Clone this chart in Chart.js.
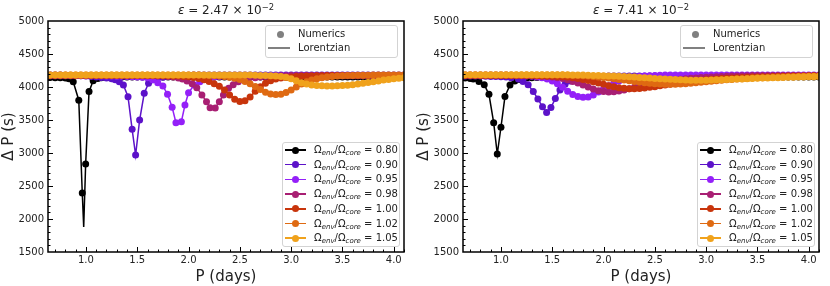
<!DOCTYPE html>
<html><head><meta charset="utf-8">
<script src="https://cdn.jsdelivr.net/npm/chart.js@4.4.0/dist/chart.umd.min.js"></script>
<style>
body{margin:0;background:#fff;font-family:"DejaVu Sans",sans-serif;color:#222}
#wrap{position:relative;width:830px;height:286px;overflow:hidden}
canvas{position:absolute;top:0}
.ttl{position:absolute;top:3px;width:356px;text-align:center;font-size:12px;line-height:14px}
.ttl sup{font-size:70%;position:relative;top:-0.5em;vertical-align:baseline;line-height:0}
.box{position:absolute;border:1px solid #d3d3d3;border-radius:3px;background:rgba(255,255,255,.85);box-sizing:border-box}
.lab{position:absolute;font-size:10px;line-height:12px;white-space:nowrap}
.lab sub{font-size:70%;font-style:italic;position:relative;top:0.3em;vertical-align:baseline;line-height:0}
.dot{position:absolute;width:7px;height:7px;border-radius:50%}
.seg{position:absolute;height:1.5px}
</style></head>
<body>
<div id="wrap">
<canvas id="c0" width="415" height="286" style="left:0"></canvas>
<canvas id="c1" width="415" height="286" style="left:415px"></canvas>
</div>
<script>
const ratioLabels=['0.80','0.90','0.95','0.98','1.00','1.02','1.05'];
const colors=['#000000','#5c12c9','#9420f8','#a81f73','#c8350c','#df6a12','#f0a21c'];
const xTicks=[1.0,1.5,2.0,2.5,3.0,3.5,4.0];
const yTicks=[1500,2000,2500,3000,3500,4000,4500,5000];

// periods (days) of the baseline modes
const gridP=[
0.60,0.65,0.70,0.75,0.80,0.85,0.90,0.95,1.00,1.05,
1.10,1.15,1.20,1.25,1.30,1.35,1.40,1.45,1.50,1.55,
1.60,1.65,1.70,1.75,1.80,1.85,1.90,1.95,2.00,2.05,
2.10,2.15,2.20,2.25,2.30,2.35,2.40,2.45,2.50,2.55,
2.60,2.65,2.70,2.75,2.80,2.85,2.90,2.95,3.00,3.05,
3.10,3.15,3.20,3.25,3.30,3.35,3.40,3.45,3.50,3.55,
3.60,3.65,3.70,3.75,3.80,3.85,3.90,3.95,4.00,4.05,
4.10];

// ---- left panel, eps = 2.47e-2 ----
const left080=[
4145,4145,4140,4140,4135,null,null,null,null,null,
null,4140,4145,4148,4150,4150,4150,4150,4150,4150,
4150,4150,4150,4150,4150,4150,4150,4150,4150,4150,
4150,4150,4150,4150,4150,4150,4150,4150,4150,4150,
4150,4150,4150,4150,4150,4150,4150,4150,4150,4150,
4150,4150,4150,4150,4150,4150,4150,4150,4150,4150,
4150,4150,4150,4150,4150,4150,4150,4150,4150,4150,
4150];
const left080DipP=[0.835,0.876,0.93,0.964,0.997,1.03,1.07,1.115];
const left080DipV=[4125,4080,3800,2394,2833,3930,4095,4130];
const left080Min=[0.978,1880];

const left090=[
4180,4180,4180,4180,4178,4176,4173,4170,4166,4160,
4152,4145,4135,4125,null,null,null,null,null,null,
null,null,null,4148,4158,4166,4172,4176,4178,4180,
4180,4180,4180,4180,4180,4180,4180,4180,4180,4180,
4180,4180,4180,4180,4180,4180,4180,4180,4180,4180,
4180,4180,4180,4180,4180,4180,4180,4180,4180,4180,
4180,4180,4180,4180,4180,4180,4180,4180,4180,4180,
4180];
const left090DipP=[1.285,1.325,1.365,1.41,1.45,1.484,1.523,1.568,1.61,1.655,1.70];
const left090DipV=[4110,4080,4030,3853,3359,2970,3500,3905,4056,4110,4135];

const left095=[
4170,4170,4170,4170,4170,4170,4170,4170,4170,4170,
4170,4170,4168,4166,4164,4162,4160,4156,4152,4148,
4140,null,null,null,null,null,null,null,null,null,
null,null,null,4150,4158,4162,4165,4168,4170,4170,
4170,4170,4170,4170,4170,4170,4170,4170,4170,4170,
4170,4170,4170,4170,4170,4170,4170,4170,4170,4170,
4170,4170,4170,4170,4170,4170,4170,4170,4170,4170,
4170];
const left095DipP=[1.65,1.70,1.75,1.795,1.84,1.877,1.93,1.965,2.0,2.055,2.11,2.16,2.21];
const left095DipV=[4110,4065,4015,3889,3692,3460,3475,3727,3914,4030,4080,4115,4140];

const left098=[
4175,4175,4175,4175,4175,4175,4175,4175,4175,4175,
4175,4175,4175,4175,4175,4175,4175,4175,4175,4175,
4172,4170,4168,4165,4160,4150,4138,null,null,null,
null,null,null,null,null,null,null,null,null,null,
null,4140,4150,4158,4163,4167,4170,4172,4174,4175,
4175,4175,4175,4175,4175,4175,4175,4175,4175,4175,
4175,4175,4175,4175,4175,4175,4175,4175,4175,4175,
4175];
const left098DipP=[1.94,1.985,2.035,2.08,2.13,2.175,2.21,2.26,2.30,2.34,2.39,2.435,2.485,2.535,2.585];
const left098DipV=[4120,4090,4050,3990,3880,3777,3685,3680,3777,3879,3980,4035,4080,4110,4130];

const left100=[
4175,4175,4175,4175,4175,4175,4175,4175,4175,4175,
4175,4175,4175,4175,4175,4175,4175,4175,4175,4175,
4175,4175,4174,4172,4170,4168,4165,4160,4155,4145,
4130,4110,4085,4050,4010,3955,3880,3815,3780,3790,
3850,3935,4005,4058,4095,4120,4135,4145,4152,4158,
4162,4165,4168,4170,4172,4173,4174,4175,4175,4175,
4175,4175,4175,4175,4175,4175,4175,4175,4175,4175,
4175];

const left102=[
4180,4180,4180,4180,4180,4180,4180,4180,4180,4180,
4180,4180,4180,4180,4180,4180,4180,4180,4180,4180,
4180,4180,4180,4180,4180,4180,4180,4180,4180,4180,
4180,4178,4175,4170,4165,4158,4148,4132,4112,4085,
4050,4008,3962,3922,3895,3885,3890,3915,3955,4000,
4045,4080,4105,4125,4140,4150,4158,4165,4170,4173,
4175,4177,4178,4179,4180,4180,4180,4180,4180,4180,
4180];

const left105=[
4180,4180,4180,4180,4180,4180,4180,4180,4180,4180,
4180,4180,4180,4180,4180,4180,4180,4180,4180,4180,
4180,4180,4180,4180,4180,4180,4180,4180,4180,4180,
4180,4180,4180,4180,4180,4180,4180,4180,4180,4180,
4180,4178,4176,4174,4172,4168,4160,4148,4125,4095,
4065,4045,4030,4022,4018,4015,4015,4018,4022,4028,
4035,4045,4055,4068,4080,4092,4105,4115,4125,4133,
4140];

// ---- right panel, eps = 7.41e-2 ----
const right080=[
4140,4138,4130,null,null,null,null,null,null,null,
null,null,null,4135,4140,4145,4148,4150,4150,4150,
4150,4150,4150,4150,4150,4150,4150,4150,4150,4150,
4150,4150,4150,4150,4150,4150,4150,4150,4150,4150,
4150,4150,4150,4150,4150,4150,4150,4150,4150,4150,
4150,4150,4150,4150,4150,4150,4150,4150,4150,4150,
4150,4150,4150,4150,4150,4150,4150,4150,4150,4150,
4150];
const right080DipP=[0.73,0.785,0.837,0.883,0.929,0.964,1.0,1.039,1.088,1.135,1.18];
const right080DipV=[4120,4085,4035,3889,3460,2985,3390,3855,4030,4090,4115];

const right090=[
4165,4165,4165,4165,4165,4163,4160,4158,4155,4150,
4140,null,null,null,null,null,null,null,null,null,
null,null,null,null,null,4150,4155,4160,4163,4165,
4165,4165,4165,4165,4165,4165,4165,4165,4165,4165,
4165,4165,4165,4165,4165,4165,4165,4165,4165,4165,
4165,4165,4165,4165,4165,4165,4165,4165,4165,4165,
4165,4165,4165,4165,4165,4165,4165,4165,4165,4165,
4165];
const right090DipP=[1.17,1.215,1.265,1.315,1.36,1.405,1.445,1.487,1.53,1.575,1.625,1.675,1.725,1.775];
const right090DipV=[4120,4085,4035,3930,3820,3700,3615,3690,3825,3955,4040,4090,4120,4140];

const right095=[
4180,4180,4180,4180,4180,4180,4180,4180,4180,4180,
4178,4175,4172,4168,4162,4152,4140,4120,4090,4050,
3995,3935,3885,3855,3845,3850,3880,3925,3975,4020,
4060,4090,4115,4135,4148,4158,4165,4170,4174,4177,
4180,4180,4180,4180,4180,4180,4180,4180,4180,4180,
4180,4180,4180,4180,4180,4180,4180,4180,4180,4180,
4180,4180,4180,4180,4180,4180,4180,4180,4180,4180,
4180];

const right098=[
4175,4175,4175,4175,4175,4175,4175,4175,4175,4175,
4175,4175,4174,4172,4170,4167,4163,4158,4150,4140,
4130,4110,4085,4060,4030,4000,3970,3945,3930,3925,
3928,3940,3955,3975,3995,4015,4035,4050,4065,4078,
4090,4100,4110,4118,4125,4132,4138,4143,4148,4152,
4156,4160,4163,4166,4168,4170,4172,4173,4174,4175,
4175,4175,4175,4175,4175,4175,4175,4175,4175,4175,
4175];

const right100=[
4175,4175,4175,4175,4175,4175,4175,4175,4175,4175,
4175,4175,4175,4174,4173,4171,4168,4165,4162,4158,
4155,4150,4140,4130,4115,4100,4080,4060,4040,4020,
4003,3990,3980,3975,3975,3978,3985,3995,4005,4018,
4030,4042,4055,4066,4077,4087,4096,4104,4111,4117,
4123,4128,4133,4137,4141,4144,4147,4150,4153,4155,
4157,4159,4161,4163,4165,4166,4167,4168,4169,4170,
4170];

const right102=[
4180,4180,4180,4180,4180,4180,4180,4180,4180,4180,
4180,4180,4180,4180,4180,4180,4180,4180,4180,4180,
4180,4178,4176,4173,4170,4165,4160,4153,4145,4135,
4125,4115,4105,4095,4085,4075,4066,4058,4050,4045,
4040,4040,4042,4045,4050,4058,4065,4072,4080,4088,
4095,4102,4108,4115,4120,4125,4130,4135,4139,4142,
4145,4148,4151,4153,4155,4157,4159,4161,4163,4164,
4165];

const right105=[
4185,4185,4185,4185,4185,4185,4185,4185,4185,4185,
4185,4185,4185,4185,4185,4185,4185,4185,4185,4185,
4185,4184,4183,4182,4180,4178,4176,4174,4171,4168,
4165,4162,4158,4154,4150,4145,4140,4135,4130,4125,
4120,4116,4112,4108,4105,4103,4102,4102,4103,4105,
4108,4111,4114,4117,4120,4123,4126,4129,4132,4135,
4138,4140,4142,4144,4146,4148,4150,4152,4154,4156,
4158];

const leftSeries=[
  [left080,left080DipP,left080DipV,left080Min],
  [left090,left090DipP,left090DipV],
  [left095,left095DipP,left095DipV],
  [left098,left098DipP,left098DipV],
  [left100],[left102],[left105]
];
const rightSeries=[
  [right080,right080DipP,right080DipV],
  [right090,right090DipP,right090DipV],
  [right095],[right098],[right100],[right102],[right105]
];

function buildPoints(grid,dipP,dipV){
  const out=[];
  grid.forEach((v,i)=>{if(v!==null)out.push({x:gridP[i],y:v});});
  (dipP||[]).forEach((p,i)=>out.push({x:p,y:dipV[i]}));
  return out.sort((a,b)=>a.x-b.x);
}

const axesDeco={id:'axesDeco',afterDatasetsDraw(chart){
  const {ctx,chartArea:a,scales:{x,y}}=chart;
  ctx.save();
  ctx.strokeStyle='#000';ctx.lineWidth=1;
  ctx.beginPath();
  for(let k=7;k<=41;k++){
    const px=Math.round(x.getPixelForValue(k/10))+0.5;
    const len=k%5===0?5:2.5;
    ctx.moveTo(px,a.bottom);ctx.lineTo(px,a.bottom-len);
  }
  for(let k=16;k<=49;k++){
    const py=Math.round(y.getPixelForValue(k*100))+0.5;
    const len=k%5===0?5:2.5;
    ctx.moveTo(a.left,py);ctx.lineTo(a.left+len,py);
  }
  ctx.stroke();
  ctx.lineWidth=1.5;
  ctx.strokeRect(a.left,a.top,a.right-a.left,a.bottom-a.top);
  ctx.restore();
}};

Chart.defaults.font.family='"DejaVu Sans", sans-serif';
Chart.defaults.color='#222';

function makeChart(id,series){
  const datasets=[];
  for(let k=series.length-1;k>=0;k--){
    const [grid,dipP,dipV,minPt]=series[k];
    const dots=buildPoints(grid,dipP,dipV);
    let line=dots;
    if(minPt) line=dots.concat([{x:minPt[0],y:minPt[1]}]).sort((a,b)=>a.x-b.x);
    datasets.push({data:line,showLine:true,borderColor:colors[k],borderWidth:1.5,pointRadius:0,clip:0});
    datasets.push({data:dots,showLine:false,pointRadius:3.5,pointBackgroundColor:colors[k],pointBorderWidth:0,clip:0});
  }
  new Chart(document.getElementById(id),{
    type:'scatter',
    data:{datasets},
    options:{
      responsive:false,animation:false,devicePixelRatio:1,events:[],
      layout:{padding:{left:0,top:21,right:11,bottom:0}},
      plugins:{legend:{display:false},tooltip:{enabled:false}},
      scales:{
        x:{type:'linear',min:0.63,max:4.1,
          grid:{display:false,drawTicks:false},border:{display:false},
          afterBuildTicks:s=>{s.ticks=xTicks.map(v=>({value:v}));},
          afterFit:s=>{s.height=34;},
          ticks:{padding:2,font:{size:10},autoSkip:false,maxRotation:0,callback:v=>Number(v).toFixed(1)},
          title:{display:true,text:'P (days)',font:{size:15},padding:{top:0,bottom:0}}},
        y:{type:'linear',min:1500,max:5000,
          grid:{display:false,drawTicks:false},border:{display:false},
          afterBuildTicks:s=>{s.ticks=yTicks.map(v=>({value:v}));},
          afterFit:s=>{s.width=48;},
          ticks:{padding:4,font:{size:10},autoSkip:false,callback:v=>String(v)},
          title:{display:true,text:'Δ P (s)',font:{size:15},padding:0}}
      }
    },
    plugins:[axesDeco]
  });
}

function decorate(off,title){
  const w=document.getElementById('wrap');
  const add=(cls,css,html)=>{const d=document.createElement('div');d.className=cls;d.style.cssText=css;if(html)d.innerHTML=html;w.appendChild(d);return d;};
  add('ttl',`left:${off+48}px`,title);
  add('box',`left:${off+265}px;top:25px;width:133px;height:33px`);
  add('dot',`left:${off+276.5}px;top:30.5px;background:#808080`);
  add('lab',`left:${off+298}px;top:28px`,'Numerics');
  add('seg',`left:${off+268}px;top:47.3px;width:22px;background:#808080`);
  add('lab',`left:${off+298}px;top:42px`,'Lorentzian');
  add('box',`left:${off+281.5}px;top:142px;width:118px;height:105px`);
  ratioLabels.forEach((r,k)=>{
    const yc=150+14.7*k;
    add('seg',`left:${off+285}px;top:${yc-0.75}px;width:21px;background:${colors[k]}`);
    add('dot',`left:${off+292.2}px;top:${yc-3.5}px;background:${colors[k]}`);
    add('lab',`left:${off+314}px;top:${yc-6}px`,`Ω<sub>env</sub>/Ω<sub>core</sub> = ${r}`);
  });
}

makeChart('c0',leftSeries);
makeChart('c1',rightSeries);
decorate(0,'<i>ε</i> = 2.47 × 10<sup>−2</sup>');
decorate(415,'<i>ε</i> = 7.41 × 10<sup>−2</sup>');
</script>
</body></html>
